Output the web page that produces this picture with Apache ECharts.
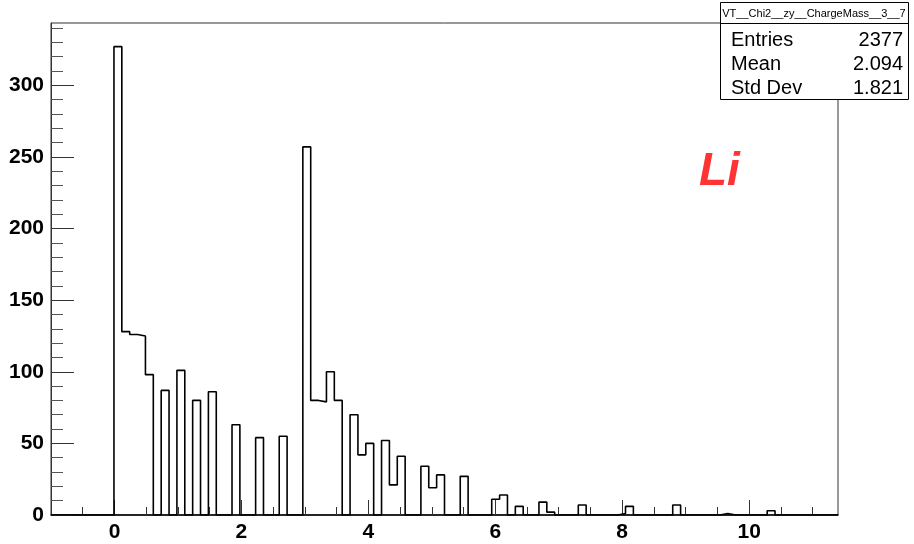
<!DOCTYPE html>
<html>
<head>
<meta charset="utf-8">
<title>VT__Chi2__zy__ChargeMass__3__7</title>
<script src="https://cdn.jsdelivr.net/npm/echarts@6/dist/echarts.min.js"></script>
<style>
  html, body { margin: 0; padding: 0; background: #fff; }
  #chart { width: 914px; height: 544px; }
</style>
</head>
<body>
<div id="chart"></div>
<script>
// Histogram binning: 100 bins from -1 to 11.4
const binLow = -1;
const binWidth = 0.124;
const counts = [
  0, 0, 0, 0, 0, 0, 0, 0, 327, 128,
  126, 125, 98, 0, 87, 0, 101, 0, 80, 0,
  86, 0, 0, 63, 0, 0, 54, 0, 0, 55,
  0, 0, 257, 80, 79, 100, 80, 0, 70, 42,
  50, 0, 52, 21, 41, 0, 0, 34, 19, 28,
  0, 0, 27, 0, 0, 0, 11, 14, 0, 6,
  0, 0, 9, 2, 0, 0, 0, 7, 0, 0,
  0, 0, 1, 6, 0, 0, 0, 0, 0, 7,
  0, 0, 0, 0, 0, 1, 0, 0, 0, 0,
  0, 3, 0, 0, 0, 0, 0, 0, 0, 0
];

// Axis ticks and labels
const xMajorTicks = [0, 2, 4, 6, 8, 10];
const xMinorTicks = [-0.5, 0.5, 1, 1.5, 2.5, 3, 3.5, 4.5, 5, 5.5, 6.5, 7, 7.5, 8.5, 9, 9.5, 10.5, 11];
const yMajorTicks = [0, 50, 100, 150, 200, 250, 300];
const yMinorTicks = [10, 20, 30, 40, 60, 70, 80, 90, 110, 120, 130, 140, 160, 170, 180, 190,
                     210, 220, 230, 240, 260, 270, 280, 290, 310, 320, 330, 340];

// Statistics box
const statsTitle = 'VT__Chi2__zy__ChargeMass__3__7';
const statsRows = [
  ['Entries', '2377'],
  ['Mean', '2.094'],
  ['Std Dev', '1.821']
];

// Step outline points: left edge of every bin, then the closing right edge
const stepPoints = counts.map((c, k) => [Number((binLow + k * binWidth).toFixed(3)), c]);
stepPoints.push([Number((binLow + counts.length * binWidth).toFixed(3)), 0]);

const xMin = binLow;
const xMax = Number((binLow + counts.length * binWidth).toFixed(3));
const yMax = 343.5;

const axisColor = '#333';
const labelFont = {
  fontFamily: 'Liberation Sans, Arial, sans-serif',
  fontWeight: 'bold',
  fontSize: 21,
  color: '#000'
};

const chart = echarts.init(document.getElementById('chart'), null, { renderer: 'canvas' });

const statsGraphics = [
  {
    type: 'rect',
    shape: { x: 720.5, y: 2.5, width: 188, height: 97 },
    style: { fill: '#fff', stroke: '#000', lineWidth: 1 },
    z: 100
  },
  {
    type: 'line',
    shape: { x1: 720.5, y1: 23.5, x2: 908.5, y2: 23.5 },
    style: { stroke: '#000', lineWidth: 1 },
    z: 101
  },
  {
    type: 'text',
    x: 814, y: 13.5,
    style: {
      text: statsTitle,
      fontFamily: 'Liberation Sans, Arial, sans-serif',
      fontSize: 11,
      fill: '#000',
      align: 'center',
      verticalAlign: 'middle'
    },
    z: 101
  }
];
const rowY = [40, 64, 88];
statsRows.forEach((row, i) => {
  statsGraphics.push({
    type: 'text',
    x: 731, y: rowY[i],
    style: {
      text: row[0],
      fontFamily: 'Liberation Sans, Arial, sans-serif',
      fontSize: 20,
      fill: '#000',
      align: 'left',
      verticalAlign: 'middle'
    },
    z: 101
  });
  statsGraphics.push({
    type: 'text',
    x: 903, y: rowY[i],
    style: {
      text: row[1],
      fontFamily: 'Liberation Sans, Arial, sans-serif',
      fontSize: 20,
      fill: '#000',
      align: 'right',
      verticalAlign: 'middle'
    },
    z: 101
  });
});
statsGraphics.push({
  type: 'text',
  x: 699, y: 172,
  style: {
    text: 'Li',
    fontFamily: 'Liberation Sans, Arial, sans-serif',
    fontSize: 46,
    fontWeight: 'bold',
    fontStyle: 'italic',
    fill: '#ff3333',
    align: 'left',
    verticalAlign: 'middle'
  },
  z: 50
});

chart.setOption({
  animation: false,
  backgroundColor: '#fff',
  grid: {
    left: 51, right: 76, top: 23, bottom: 29,
    show: true,
    borderColor: axisColor,
    borderWidth: 1,
    backgroundColor: 'transparent'
  },
  xAxis: [
    {
      type: 'value',
      min: xMin, max: xMax,
      position: 'bottom',
      splitLine: { show: false },
      axisLine: { show: true, onZero: false, lineStyle: { color: '#000', width: 1.5 } },
      axisTick: {
        show: true, inside: true, length: 15,
        customValues: xMajorTicks,
        lineStyle: { color: axisColor, width: 1 }
      },
      axisLabel: Object.assign({
        show: true, margin: 7,
        customValues: xMajorTicks,
        formatter: v => String(v)
      }, labelFont)
    },
    {
      type: 'value',
      min: xMin, max: xMax,
      position: 'bottom',
      splitLine: { show: false },
      axisLine: { show: false, onZero: false },
      axisTick: {
        show: true, inside: true, length: 8,
        customValues: xMinorTicks,
        lineStyle: { color: axisColor, width: 1 }
      },
      axisLabel: { show: false }
    }
  ],
  yAxis: [
    {
      type: 'value',
      min: 0, max: yMax,
      position: 'left',
      splitLine: { show: false },
      axisLine: { show: true, onZero: false, lineStyle: { color: axisColor, width: 1 } },
      axisTick: {
        show: true, inside: true, length: 23,
        customValues: yMajorTicks,
        lineStyle: { color: axisColor, width: 1 }
      },
      axisLabel: Object.assign({
        show: true, margin: 7,
        customValues: yMajorTicks,
        formatter: v => String(v)
      }, labelFont)
    },
    {
      type: 'value',
      min: 0, max: yMax,
      position: 'left',
      splitLine: { show: false },
      axisLine: { show: false, onZero: false },
      axisTick: {
        show: true, inside: true, length: 12,
        customValues: yMinorTicks,
        lineStyle: { color: '#555', width: 1 }
      },
      axisLabel: { show: false }
    }
  ],
  series: [
    {
      type: 'line',
      xAxisIndex: 0,
      yAxisIndex: 0,
      data: stepPoints,
      step: 'end',
      showSymbol: false,
      symbol: 'none',
      silent: true,
      lineStyle: { color: '#000', width: 1.6 },
      z: 10
    }
  ],
  graphic: statsGraphics
});
</script>
</body>
</html>
